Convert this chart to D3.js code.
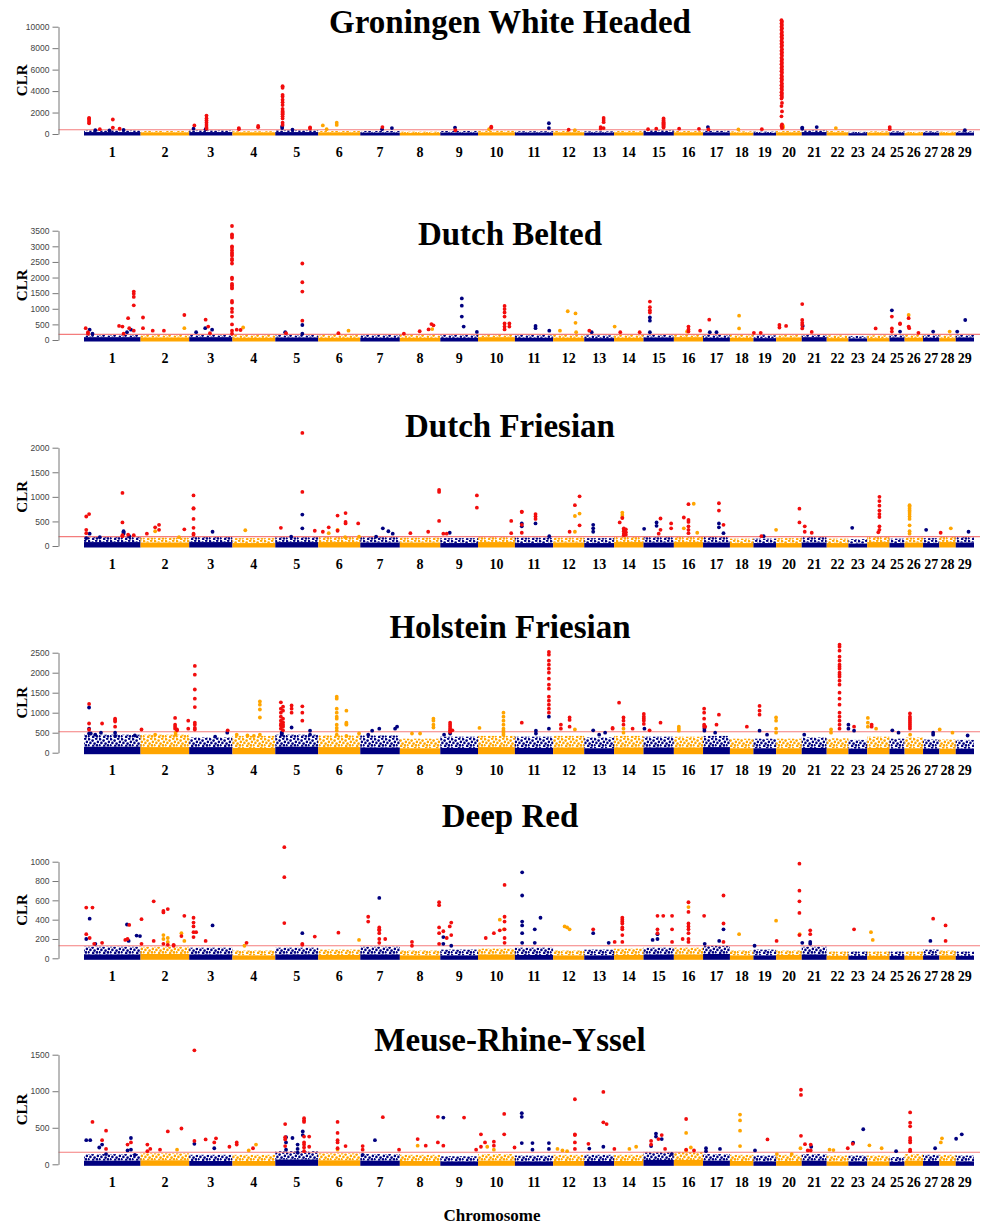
<!DOCTYPE html>
<html>
<head>
<meta charset="utf-8">
<script src="https://cdn.jsdelivr.net/npm/d3@7"></script>
<style>
  body { margin: 0; background: #fff; }
  .title { font-family: "Liberation Serif", "Times New Roman", serif; font-weight: bold; }
  .tick text { font-family: "Liberation Sans", Arial, sans-serif; }
</style>
</head>
<body>
<svg id="chart" width="984" height="1226"></svg>
<script>
// bovine autosome lengths (Mb)
const chromLengths = [158.3, 136.2, 121.0, 120.0, 120.1, 117.8, 110.7, 113.3, 105.5, 103.3, 106.9, 87.2, 83.5, 82.4, 85.0,
  81.7, 75.2, 65.8, 63.4, 71.8, 69.9, 60.8, 52.5, 62.3, 42.4, 51.7, 45.6, 45.9, 51.1];

const breeds = ['Groningen White Headed', 'Dutch Belted', 'Dutch Friesian', 'Holstein Friesian', 'Deep Red', 'Meuse-Rhine-Yssel'];

const yTicks = [
  [0, 2000, 4000, 6000, 8000, 10000],
  [0, 500, 1000, 1500, 2000, 2500, 3000, 3500],
  [0, 500, 1000, 1500, 2000],
  [0, 500, 1000, 1500, 2000, 2500],
  [0, 200, 400, 600, 800, 1000],
  [0, 500, 1000, 1500]
];

const thresholds = [400, 180, 190, 525, 130, 165];

// solid core of the SNP cloud per chromosome
const cores = [
  [180, 150, 180, 150, 180, 150, 130, 100, 130, 150, 130, 150, 120, 150, 180, 150, 150, 120, 100, 150, 180, 150, 80, 120, 120, 80, 120, 100, 120],
  [90, 80, 90, 70, 80, 70, 70, 70, 70, 90, 70, 70, 60, 70, 80, 90, 70, 70, 60, 80, 90, 60, 50, 60, 80, 70, 70, 60, 80],
  [80, 70, 80, 60, 80, 80, 70, 70, 60, 80, 60, 70, 60, 80, 70, 80, 70, 60, 60, 60, 70, 60, 50, 80, 60, 70, 60, 80, 70],
  [150, 140, 140, 120, 150, 140, 130, 110, 120, 140, 120, 130, 110, 130, 130, 130, 140, 110, 110, 110, 120, 110, 100, 120, 100, 110, 100, 100, 100],
  [40, 45, 40, 30, 40, 35, 40, 30, 30, 40, 35, 30, 30, 35, 40, 40, 45, 30, 30, 35, 40, 25, 25, 25, 25, 25, 30, 30, 25],
  [50, 55, 45, 45, 65, 55, 50, 45, 40, 50, 40, 45, 45, 45, 60, 60, 50, 45, 40, 45, 50, 40, 40, 40, 35, 50, 45, 45, 40]
];

// upper edge of the sparser part of the cloud
const halos = [
  [320, 280, 320, 260, 330, 280, 280, 220, 280, 300, 260, 280, 250, 280, 330, 280, 300, 250, 220, 280, 330, 280, 200, 250, 250, 200, 250, 220, 250],
  [180, 170, 180, 160, 170, 160, 160, 160, 160, 180, 160, 160, 150, 160, 170, 180, 160, 160, 150, 170, 180, 150, 130, 150, 180, 170, 160, 150, 170],
  [200, 170, 190, 160, 180, 190, 180, 170, 160, 180, 170, 170, 160, 200, 180, 190, 190, 150, 150, 160, 180, 150, 140, 190, 150, 170, 160, 200, 180],
  [450, 450, 380, 420, 450, 430, 430, 350, 400, 420, 400, 420, 380, 420, 400, 400, 420, 350, 350, 350, 380, 360, 320, 400, 350, 380, 330, 330, 320],
  [120, 120, 110, 80, 110, 90, 120, 80, 90, 100, 110, 80, 90, 100, 110, 110, 130, 80, 90, 80, 120, 70, 70, 70, 70, 70, 90, 80, 70],
  [140, 150, 130, 130, 180, 150, 140, 130, 110, 140, 120, 130, 130, 130, 170, 170, 140, 130, 120, 130, 140, 120, 120, 120, 100, 140, 130, 130, 120]
];

// [chromosome, relative position, CLR values, highlighted]
const gwhPoints = [
  [1, .09, [1500, 1420, 1300, 1150, 1000], 1], [1, .28, [450], 1], [1, .51, [1350, 600], 1], [1, .63, [500], 1],
  [1, .2, [350], 0], [1, .45, [330], 0], [1, .7, [380], 0],
  [3, .12, [800], 1], [3, .1, [500], 0], [3, .4, [1720, 1450, 1250, 1050, 850, 650, 500], 1], [3, .38, [450], 0],
  [4, .15, [550, 450], 1], [4, .6, [750, 620], 1],
  [5, .17, [4450, 4300, 3650, 3500, 3200, 2950, 2700, 2350, 2150, 2050, 1950, 1850, 1650, 1450, 1050, 850], 1],
  [5, .16, [700, 550], 0], [5, .4, [400], 0], [5, .81, [620, 500], 1],
  [6, .11, [800], 0], [6, .44, [1050, 850], 0], [6, .2, [450], 0],
  [7, .56, [650], 1], [7, .55, [450], 0], [7, .8, [550], 0],
  [9, .39, [600], 0], [9, .4, [350], 1],
  [10, .36, [680, 600], 1], [10, .3, [450], 0],
  [11, .89, [1000, 550], 0],
  [12, .5, [400], 1], [12, .7, [350], 0],
  [13, .55, [650, 500], 1], [13, .65, [1500, 1300, 1100, 550], 1],
  [15, .15, [450], 1], [15, .42, [500], 1], [15, .66, [1450, 1300, 1200, 1100, 1000, 900, 800, 700, 600], 1],
  [16, .18, [500], 1], [16, .86, [480], 1],
  [17, .18, [650], 0], [17, .2, [430], 1],
  [18, .36, [430], 0], [19, .37, [450], 1],
  [20, .21, [10600, 10300, 10000, 9700, 9350, 9050, 8700, 8400, 8100, 7750, 7450, 7100, 6800, 6500, 6150, 5850, 5500, 5200,
    4900, 4550, 4250, 3900, 3600, 3300, 2600, 1650, 750], 1],
  [20, .23, [10450, 10150, 9850, 9500, 9200, 8900, 8550, 8250, 7900, 7600, 7300, 6950, 6650, 6300, 6000, 5700, 5350, 5050,
    4700, 4400, 4100, 3750, 3450, 2900, 2100, 900, 650, 550], 1],
  [20, .27, [750, 600], 0],
  [21, .02, [600, 500], 0], [21, .6, [650], 0],
  [22, .42, [550], 0], [25, .02, [650, 450], 1], [29, .5, [350], 0]
];

const dbPoints = [
  [1, .03, [380], 1], [1, .07, [250, 200], 1], [1, .1, [330], 0], [1, .15, [200], 0],
  [1, .62, [450], 1], [1, .68, [430], 1], [1, .7, [200], 1], [1, .76, [250], 0], [1, .78, [700], 1], [1, .8, [380], 1],
  [1, .83, [330], 0], [1, .88, [1550, 1480, 1380, 1110, 300], 1],
  [2, .05, [720, 380], 1], [2, .25, [300], 1], [2, .48, [300], 1], [2, .9, [800], 1], [2, .9, [380], 0],
  [3, .16, [250], 0], [3, .37, [380], 0], [3, .38, [650], 1], [3, .44, [430], 1], [3, .48, [220], 1], [3, .53, [330], 0],
  [3, .99, [3650, 3380, 3330, 3280, 3000, 2950, 2870, 2800, 2750, 2700, 2600, 2550, 2450, 2000, 1950, 1800, 1750, 1700, 1650,
    1250, 1200, 1000, 900, 750, 500, 300, 200], 1],
  [4, .1, [330], 1], [4, .19, [320], 1], [4, .25, [400], 0],
  [5, .23, [250], 0], [5, .25, [220], 1], [5, .63, [2450, 1850, 1550, 620], 1], [5, .63, [480, 200], 0],
  [6, .48, [220], 1], [6, .72, [300], 0],
  [8, .1, [200], 1], [8, .49, [280], 1], [8, .71, [340], 1], [8, .78, [510], 1], [8, .83, [470], 1], [8, .8, [350], 0],
  [9, .57, [1330, 1100, 750], 0], [9, .62, [430], 0], [9, .97, [260], 0],
  [10, .72, [1090, 990, 880, 750, 530, 430, 340], 1], [10, .85, [530, 430], 1],
  [11, .54, [450, 380], 0], [11, .9, [300], 0],
  [12, .22, [300], 0], [12, .47, [920], 0], [12, .72, [850, 550], 0], [12, .74, [250], 0],
  [13, .17, [300], 1], [13, .25, [250], 0],
  [14, .02, [430], 0], [14, .21, [250], 1], [14, .87, [250], 1],
  [15, .21, [1230, 1050, 950, 880], 1], [15, .21, [720, 620, 250], 0],
  [16, .5, [430, 340, 270], 1], [16, .45, [270], 0], [16, .9, [300], 1],
  [17, .23, [650], 1], [17, .25, [250], 0], [17, .5, [250], 0],
  [18, .39, [780, 370], 0], [19, .02, [230], 1], [19, .32, [230], 1],
  [20, .13, [480, 400], 1], [20, .39, [450], 1],
  [21, .02, [1150, 640, 550, 480, 370], 1], [21, .04, [450], 0], [21, .4, [260], 1],
  [24, .38, [370], 1],
  [25, .16, [950], 0], [25, .16, [750, 370, 270], 1], [25, .7, [530, 510], 1], [25, .7, [270], 0],
  [26, .22, [800], 0], [26, .22, [700, 430], 1], [26, .25, [380], 1], [26, .75, [230], 1],
  [27, .62, [270], 0], [28, .63, [270], 0], [29, .08, [270], 0], [29, .52, [640], 0]
];

const dfPoints = [
  [1, .04, [600, 330, 260], 1], [1, .04, [160], 0], [1, .09, [650], 1], [1, .1, [250], 0], [1, .28, [180], 0],
  [1, .68, [1080, 480, 220, 200], 1], [1, .7, [300, 280, 250], 0], [1, .78, [230], 1], [1, .8, [200], 0], [1, .88, [220], 1],
  [2, .13, [250], 1], [2, .3, [380], 1], [2, .3, [300], 0], [2, .38, [430, 330], 1], [2, .79, [180], 0], [2, .9, [340], 1],
  [3, .1, [1030, 770, 760, 550, 370, 250, 230], 1], [3, .54, [290], 0],
  [4, .3, [320], 0],
  [5, .13, [370], 1], [5, .37, [190], 0], [5, .63, [2300, 1100], 1], [5, .63, [640, 360], 0], [5, .92, [310], 1],
  [6, .11, [290], 1], [6, .25, [380], 1], [6, .25, [260], 0], [6, .46, [620, 310], 1], [6, .46, [330], 0],
  [6, .65, [670, 490, 460], 1], [6, .64, [180], 0], [6, .95, [460], 1], [6, .97, [190], 0],
  [7, .57, [360], 0], [7, .71, [300], 0], [7, .82, [250], 0], [7, .4, [190], 0],
  [8, .26, [260], 1], [8, .7, [290], 1], [8, .97, [1140, 1100, 510], 1],
  [9, .08, [250], 1], [9, .17, [250], 1], [9, .25, [270], 0], [9, .97, [1030, 780], 1],
  [10, .9, [510, 260], 1],
  [11, .18, [700, 690, 430, 270], 1], [11, .18, [460, 400], 0], [11, .54, [650, 600, 550], 1], [11, .54, [460], 0], [11, .9, [200], 0],
  [12, .53, [290], 1], [12, .7, [830], 1], [12, .7, [610, 290], 0], [12, .85, [1010, 420], 1], [12, .85, [660], 0],
  [13, .3, [430, 360, 290], 0],
  [14, .19, [480], 1], [14, .28, [680, 630, 580], 0], [14, .28, [570], 1], [14, .33, [360, 330, 300, 250, 220], 1], [14, .4, [340, 280, 230], 1],
  [15, .02, [350], 0], [15, .43, [480, 410], 0], [15, .56, [560, 330], 1], [15, .5, [250], 1], [15, .91, [460, 360], 1],
  [16, .34, [580], 1], [16, .34, [360], 0], [16, .5, [850, 530, 490, 400, 330, 260], 1], [16, .68, [860], 0], [16, .8, [270], 0],
  [17, .59, [870, 720], 1], [17, .59, [460, 380], 0], [17, .76, [430], 1], [17, .76, [260], 0],
  [19, .35, [200], 1], [19, .45, [200], 0],
  [20, .0, [330], 0], [20, .91, [760, 480], 1],
  [21, .12, [400, 290], 1], [21, .4, [270], 1],
  [23, .2, [370], 0],
  [24, .55, [1000, 915, 820, 720, 650, 590, 400, 330], 1], [24, .5, [280], 1],
  [26, .27, [830, 800, 760, 720, 690, 650, 600, 550, 420, 300, 250], 0],
  [27, .19, [330], 0], [28, .08, [270], 1], [28, .7, [360], 0], [29, .7, [290], 0]
];

const hfPoints = [
  [1, .09, [1220, 730, 580], 1], [1, .09, [1130, 600, 480], 0], [1, .32, [730], 1], [1, .3, [500], 0],
  [1, .55, [850, 820, 780, 650], 1], [1, .55, [500, 420], 0], [1, .9, [430], 0], [1, .2, [450], 0], [1, .12, [480], 0],
  [2, .02, [580], 1], [2, .71, [870, 700, 650, 600], 1], [2, .75, [580, 560], 1], [2, .72, [500, 450], 0], [2, .98, [800, 600], 1], [2, .3, [450], 0],
  [3, .13, [2170, 1950, 1580, 1350, 1140, 750, 700, 620, 580], 1], [3, .89, [560], 1], [3, .88, [500], 0], [3, .6, [400], 0],
  [4, .64, [1280, 1200, 1080, 880], 0], [4, .64, [450], 0], [4, .1, [450], 0], [4, .35, [430], 0], [4, .5, [420], 0],
  [5, .13, [1260, 1100, 1000, 900, 800, 720, 680, 600], 1], [5, .18, [1150, 1050, 850, 760, 700, 650, 560], 1],
  [5, .15, [500, 480, 450], 0], [5, .38, [630], 0], [5, .38, [1180, 1100, 1000], 1], [5, .63, [1160, 1000, 800], 1], [5, .81, [550, 450], 0],
  [6, .44, [1400, 1350, 1100, 1000, 900, 850, 700, 620, 550, 450], 0], [6, .67, [1050, 750, 720, 700, 420], 0], [6, .97, [480], 0],
  [7, .48, [600], 0], [7, .3, [550], 0], [7, .2, [450], 0], [7, .88, [600], 0], [7, .93, [650], 0],
  [8, .83, [850, 800, 700, 630], 0], [8, .3, [480], 0], [8, .5, [480], 0],
  [9, .1, [450], 0], [9, .26, [750, 700, 650, 600, 560, 520], 1], [9, .26, [480], 0], [9, .32, [560], 1],
  [10, .04, [620], 0], [10, .69, [1000, 900, 800, 700, 600, 550, 500, 450], 0],
  [11, .18, [750], 1], [11, .55, [550, 480], 0],
  [11, .89, [2520, 2450, 2300, 2200, 2100, 2000, 1850, 1700, 1600, 1400, 1300, 1200, 1100, 1000], 1], [11, .89, [900, 600], 0],
  [12, .25, [700, 600], 1], [12, .53, [880, 820, 650], 1], [12, .7, [580], 0],
  [13, .3, [560], 0], [13, .5, [450], 0], [13, .7, [500], 0], [13, .95, [620, 600], 1],
  [14, .17, [1250], 1], [14, .32, [880, 800, 700], 1], [14, .32, [600, 500], 0], [14, .63, [600], 1],
  [15, .01, [970, 900, 850, 800, 720], 1], [15, .03, [600], 0], [15, .2, [560], 1], [15, .56, [750], 1],
  [16, .17, [650, 600, 550], 0],
  [17, .04, [1100, 1000, 850, 700, 650], 1], [17, .05, [600, 550], 0], [17, .08, [650], 1], [17, .59, [950], 1], [17, .5, [700], 1], [17, .45, [500], 0],
  [18, .72, [650], 1],
  [19, .27, [1170, 1050, 950], 1], [19, .27, [550], 0], [19, .6, [450], 0],
  [20, .0, [880, 800, 600, 500], 0], [21, .1, [450], 0], [22, .2, [580, 500], 0],
  [22, .59, [2700, 2650, 2550, 2400, 2300, 2200, 2150, 2100, 2000, 1950, 1900, 1800, 1700, 1500, 1350, 1200, 1000, 900, 800, 700, 600], 1],
  [23, .0, [700, 600], 0], [23, .3, [650], 1], [23, .3, [550], 0],
  [24, .03, [870, 750, 650], 0], [24, .2, [700, 650], 1], [24, .4, [600], 0],
  [25, .19, [560], 0], [25, .6, [500], 0],
  [26, .29, [980, 900, 850, 800, 750, 700, 650, 600], 1], [26, .3, [450], 0],
  [27, .62, [500, 450], 0], [28, .02, [580], 0], [28, .8, [500], 0], [29, .65, [430], 0]
];

const drPoints = [
  [1, .04, [525, 250], 1], [1, .04, [200], 0], [1, .15, [525], 1], [1, .1, [410], 0], [1, .1, [210], 1], [1, .18, [150], 1],
  [1, .2, [150], 0], [1, .32, [160], 1], [1, .73, [190], 1], [1, .77, [200], 1], [1, .76, [350], 0], [1, .8, [345], 1],
  [1, .79, [180], 0], [1, .93, [235], 0], [1, .99, [230], 0],
  [2, .02, [405, 150], 1], [2, .27, [590, 180], 1], [2, .47, [490, 475, 150], 1], [2, .47, [240, 200], 0],
  [2, .56, [510, 140], 1], [2, .56, [210, 170], 0], [2, .68, [140, 130], 1], [2, .84, [260], 0], [2, .84, [230], 1],
  [2, .9, [440], 1], [2, .9, [180], 0],
  [3, .1, [420, 370, 330, 270, 220], 1], [3, .16, [270], 1], [3, .38, [180], 1], [3, .54, [340], 0],
  [4, .33, [160], 1], [4, .28, [130], 0],
  [5, .21, [1150, 840, 365], 1], [5, .63, [260], 0], [5, .63, [150, 140], 1], [5, .92, [225], 1],
  [6, .48, [265], 1], [6, .97, [190], 0],
  [7, .2, [430, 380], 1], [7, .48, [625], 0], [7, .48, [320, 300, 290, 260, 200, 160], 1], [7, .63, [200], 1],
  [8, .3, [170, 130], 1], [8, .97, [580, 550, 320, 260, 150], 1],
  [9, .08, [280], 1], [9, .08, [220, 150], 0], [9, .17, [210], 1], [9, .25, [330], 1], [9, .29, [370, 240], 1], [9, .29, [130], 0],
  [10, .21, [210], 1], [10, .43, [260], 1], [10, .59, [290], 1], [10, .59, [400], 0], [10, .72, [760, 430, 380, 300, 210, 160], 1], [10, .7, [300], 0],
  [11, .19, [890, 650, 380, 340, 260, 160], 0], [11, .52, [300, 160], 0], [11, .67, [420], 0],
  [12, .37, [330], 0], [12, .45, [320], 0], [12, .53, [300], 0],
  [13, .3, [300], 1], [13, .3, [260], 0], [13, .82, [160], 0],
  [14, .02, [170], 1], [14, .28, [420, 400, 380, 360, 320, 300, 240, 170], 1],
  [15, .46, [440, 300, 260], 1], [15, .46, [250, 200], 0], [15, .65, [440], 1], [15, .3, [190], 0], [15, .94, [440, 300, 170], 1],
  [16, .3, [200], 1], [16, .5, [580, 480, 360, 330, 300, 260, 200, 170], 1], [16, .5, [530], 0],
  [17, .04, [440], 1], [17, .06, [150], 0], [17, .76, [650, 360, 170], 1], [17, .76, [300], 0], [17, .6, [180], 0],
  [18, .39, [250], 0], [19, .05, [130], 0],
  [20, .0, [390], 0], [20, .02, [180], 1], [20, .91, [980, 700, 590, 470, 240], 1], [20, .92, [250], 0], [21, .02, [160], 0],
  [21, .34, [290, 250], 1], [21, .34, [170, 150], 0],
  [23, .3, [300], 1], [24, .17, [270], 0], [24, .25, [190], 0],
  [27, .45, [180], 0], [27, .62, [410], 1], [28, .38, [340, 180], 1]
];

const mryPoints = [
  [1, .04, [330], 0], [1, .11, [330], 0], [1, .15, [580], 1], [1, .27, [230], 0], [1, .32, [330], 1], [1, .32, [270], 0],
  [1, .39, [460, 210], 1], [1, .39, [140], 0], [1, .77, [270], 1], [1, .77, [190], 0], [1, .83, [300], 1], [1, .83, [360, 200], 0], [1, .9, [130], 0],
  [2, .14, [270, 180], 1], [2, .2, [210], 1], [2, .4, [200], 1], [2, .56, [450], 1], [2, .84, [490], 1], [2, .75, [200], 0],
  [3, .12, [1560, 320], 1], [3, .12, [280], 0], [3, .38, [340], 1], [3, .58, [300], 1], [3, .58, [220], 0], [3, .62, [355], 1], [3, .93, [240], 1],
  [4, .1, [300, 270], 1], [4, .48, [220], 1], [4, .55, [270], 0], [4, .38, [190], 0],
  [5, .23, [550, 370, 340, 250], 1], [5, .25, [370, 300, 200], 0], [5, .4, [360], 0], [5, .52, [270, 210, 160], 0],
  [5, .64, [450, 400], 0], [5, .67, [630, 600, 580, 380, 300, 270, 230, 180], 1], [5, .79, [380, 240], 1],
  [6, .46, [580, 430, 330, 300, 220], 1], [6, .46, [200], 0], [6, .65, [250], 1],
  [7, .06, [250, 200], 1], [7, .06, [130], 0], [7, .37, [330], 0], [7, .57, [645], 1], [7, .98, [200], 1],
  [8, .44, [345], 1], [8, .44, [255], 0], [8, .64, [255], 1], [8, .94, [650, 300], 1],
  [9, .08, [640], 0], [9, .08, [255], 1], [9, .63, [640], 1], [9, .95, [200], 1],
  [10, .08, [410, 240], 1], [10, .19, [300], 1], [10, .25, [240], 0], [10, .43, [310, 255], 1], [10, .43, [200], 0],
  [10, .71, [690, 410], 1], [10, .99, [230], 1],
  [11, .18, [700, 650, 290], 0], [11, .46, [290, 200], 0], [11, .89, [290, 210], 0],
  [12, .14, [210], 0], [12, .3, [190], 0], [12, .45, [180], 0], [12, .7, [890, 410, 400, 300, 210], 1],
  [13, .14, [280], 1], [13, .17, [215], 0], [13, .64, [990, 575], 1], [13, .64, [240], 0], [13, .75, [550], 1],
  [14, .01, [210], 1], [14, .52, [210], 0], [14, .75, [240], 0],
  [15, .25, [320, 270], 1], [15, .25, [250], 0], [15, .41, [420, 380], 0], [15, .49, [345], 1], [15, .6, [400], 1],
  [15, .6, [345], 0], [15, .71, [210], 1], [15, .93, [140], 0],
  [16, .42, [620, 200], 1], [16, .42, [430, 190], 0], [16, .58, [230], 0], [16, .69, [190], 1],
  [17, .11, [220, 180], 0], [17, .63, [210], 0],
  [18, .43, [680, 600, 460, 250], 0],
  [19, .07, [190], 0], [19, .62, [340], 1],
  [20, .03, [140], 0], [20, .61, [140], 0], [20, .97, [1020, 950, 390], 1], [20, .95, [220], 0],
  [21, .13, [275], 1], [21, .24, [190], 1], [21, .36, [270, 190], 1], [21, .38, [240], 0],
  [22, .13, [200], 0], [22, .31, [195], 0], [22, .97, [220], 1],
  [23, .23, [280], 1], [23, .25, [295], 0], [23, .79, [480], 0],
  [24, .1, [260], 0], [24, .65, [220], 0], [25, .44, [180], 0],
  [26, .3, [710, 570, 520, 360, 330, 300, 200, 180], 1],
  [27, .74, [220], 0], [28, .09, [300], 0], [28, .16, [355], 0], [29, .02, [350], 0], [29, .33, [410], 0]
];

const panelPoints = [gwhPoints, dbPoints, dfPoints, hfPoints, drPoints, mryPoints];

// ---- layout ----
const zeroY = [134, 340, 546, 752.7, 958.3, 1164.3];
const topY = [26.7, 230.7, 447.7, 652.7, 861.7, 1054.7];
const titleY = [33, 245, 437, 638, 827, 1051];
const axisX = 58.5;
const NAVY = '#00007f', ORANGE = '#ffa500', RED = '#f20d0d';

const svg = d3.select('#chart');

// dotted fill for the sparse upper part of each chromosome's cloud
const defs = svg.append('defs');
const haloDots = [[1, 1.2], [4.6, 2.6], [8.2, 0.7], [2.4, 4.9], [6.6, 5.6], [9.9, 3.9], [0.4, 7.2], [5.2, 7.9], [9.0, 7.4]];
[['navy', NAVY], ['orange', ORANGE]].forEach(([name, col]) => {
    const pat = defs.append('pattern')
        .attr('id', `halo-${name}`)
        .attr('patternUnits', 'userSpaceOnUse')
        .attr('width', 11)
        .attr('height', 9);
    haloDots.forEach(([cx, cy]) => {
        pat.append('circle').attr('cx', cx).attr('cy', cy).attr('r', 1.3).attr('fill', col);
    });
});

const starts = d3.cumsum([0, ...chromLengths.slice(0, -1)]);
const total = d3.sum(chromLengths);
const x = d3.scaleLinear().domain([0, total]).range([84, 974]);
const chromColor = c => (c % 2 === 1 ? NAVY : ORANGE);
const haloFill = c => (c % 2 === 1 ? 'url(#halo-navy)' : 'url(#halo-orange)');
const posX = (c, p) => x(starts[c - 1] + p * chromLengths[c - 1]);

breeds.forEach((breed, i) => {
    const g = svg.append('g').attr('class', 'panel');
    const ticks = yTicks[i];
    const y = d3.scaleLinear().domain([0, d3.max(ticks)]).range([zeroY[i], topY[i]]);

    g.append('text')
        .attr('class', 'title')
        .attr('x', 510)
        .attr('y', titleY[i])
        .attr('text-anchor', 'middle')
        .attr('font-size', 33)
        .text(breed);

    const chromX = c => x(starts[c]);
    const chromW = c => x(starts[c] + chromLengths[c]) - x(starts[c]);

    g.selectAll('rect.halo')
        .data(chromLengths)
        .enter()
        .append('rect')
        .classed('halo', true)
        .attr('x', (d, c) => chromX(c))
        .attr('width', (d, c) => chromW(c))
        .attr('y', (d, c) => y(halos[i][c]))
        .attr('height', (d, c) => y(cores[i][c]) - y(halos[i][c]))
        .attr('fill', (d, c) => haloFill(c + 1));

    g.selectAll('rect.core')
        .data(chromLengths)
        .enter()
        .append('rect')
        .classed('core', true)
        .attr('x', (d, c) => chromX(c))
        .attr('width', (d, c) => chromW(c))
        .attr('y', (d, c) => y(cores[i][c]))
        .attr('height', (d, c) => y(0) - y(cores[i][c]) + 1.5)
        .attr('fill', (d, c) => chromColor(c + 1));

    g.append('line')
        .attr('x1', axisX)
        .attr('x2', 980)
        .attr('y1', y(thresholds[i]))
        .attr('y2', y(thresholds[i]))
        .attr('stroke', '#f47c7c')
        .attr('stroke-width', 1.1);

    const pts = panelPoints[i].flatMap(([c, p, vals, hi]) =>
        vals.map(v => ({ c, p, v, hi })));

    // highlighted SNPs last so they sit on top
    pts.sort((a, b) => a.hi - b.hi);

    g.selectAll('circle.snp')
        .data(pts)
        .enter()
        .append('circle')
        .classed('snp', true)
        .attr('cx', d => posX(d.c, d.p))
        .attr('cy', d => y(d.v))
        .attr('r', 1.9)
        .attr('fill', d => (d.hi ? RED : chromColor(d.c)));

    const yAxis = d3.axisLeft(y)
        .tickValues(ticks)
        .tickSize(6)
        .tickSizeOuter(0)
        .tickPadding(3)
        .tickFormat(d3.format('d'));

    const ag = g.append('g')
        .attr('transform', `translate(${axisX},0)`)
        .call(yAxis);
    ag.selectAll('path, line').attr('stroke', '#777');
    ag.selectAll('text')
        .attr('fill', '#444')
        .attr('font-size', 8.5);

    g.append('text')
        .attr('class', 'title')
        .attr('transform', `translate(27,${(zeroY[i] + topY[i]) / 2}) rotate(-90)`)
        .attr('text-anchor', 'middle')
        .attr('font-size', 15)
        .text('CLR');

    g.selectAll('text.chr')
        .data(chromLengths)
        .enter()
        .append('text')
        .attr('class', 'chr title')
        .attr('x', (d, c) => x(starts[c] + d / 2))
        .attr('y', zeroY[i] + 22.5)
        .attr('text-anchor', 'middle')
        .attr('font-size', 14)
        .text((d, c) => c + 1);
});

svg.append('text')
    .attr('class', 'title')
    .attr('x', 492)
    .attr('y', 1221)
    .attr('text-anchor', 'middle')
    .attr('font-size', 17)
    .text('Chromosome');
</script>
</body>
</html>
